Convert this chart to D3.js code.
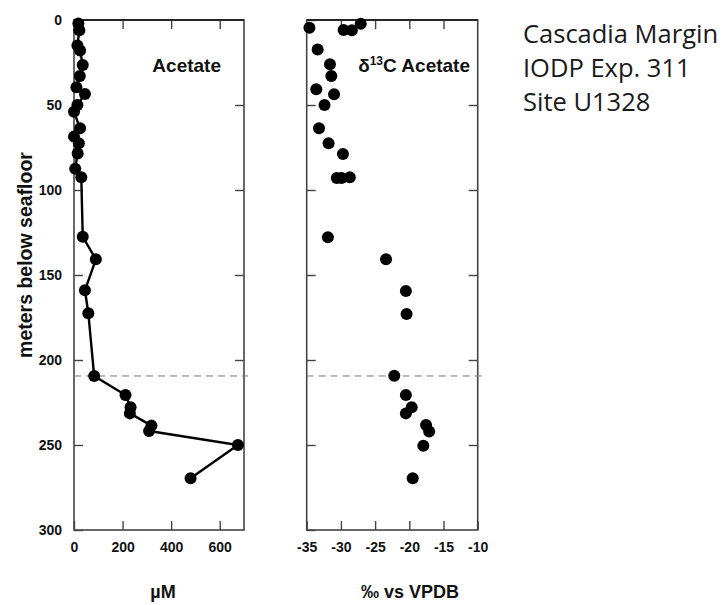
<!DOCTYPE html>
<html>
<head>
<meta charset="utf-8">
<script src="https://cdn.jsdelivr.net/npm/d3@7"></script>
<style>
  body { margin: 0; background: #fff; }
  svg { display: block; font-family: "Liberation Sans", Arial, sans-serif; }
  .tick text { font-size: 14px; font-weight: bold; fill: #111; }
  .tick line { stroke: #444; stroke-width: 1.4; }
  .domain { display: none; }
  .frame { fill: none; stroke: #444; stroke-width: 1.6; }
  .panel-title { font-size: 19px; font-weight: bold; fill: #111; }
  .axis-title { font-size: 18px; font-weight: bold; fill: #111; }
  .site { font-family: "Open Sans", "Noto Sans", sans-serif; font-size: 25.5px; fill: #1a1a1a; }
</style>
</head>
<body>
<div id="chart"></div>
<script>
  // acetate concentration (µM) vs depth (mbsf)
  var acetateDepth = [2, 6, 15, 18, 26.5, 33, 39.5, 43.5, 50, 54, 63.7, 68.6, 72.5, 78.5, 87.5, 92.5, 127.5, 140.8, 159, 172.5, 209.4, 220.6, 227.8, 231.4, 238.6, 241.8, 250, 269.6];
  var acetateConc = [18, 22, 14, 25, 36, 24, 10, 45, 14, 0, 25, 0, 20, 15, 5, 30, 36, 90, 45, 59, 83, 212, 233, 230, 319, 309, 675, 480];

  // d13C of acetate (permil vs VPDB) vs depth (mbsf)
  var d13cDepth = [2.2, 4.5, 5.9, 6.1, 17.3, 26, 33, 40.8, 43.7, 50, 63.7, 72.5, 78.8, 93, 93, 92.5, 127.8, 140.8, 159.4, 173, 209.2, 220.6, 227.8, 231.4, 238.2, 242, 250.4, 269.6];
  var d13cValue = [-27.1, -34.6, -29.6, -28.4, -33.4, -31.6, -31.4, -33.6, -31, -32.4, -33.2, -31.8, -29.7, -30.6, -29.9, -28.7, -31.9, -23.4, -20.5, -20.4, -22.2, -20.5, -19.65, -20.5, -17.55, -17.1, -17.95, -19.5];

  var concTicks = [0, 200, 400, 600];
  var d13cTicks = [-35, -30, -25, -20, -15, -10];
  var depthTicks = [0, 50, 100, 150, 200, 250, 300];
  var smtzDepth = 209.4;

  var width = 723, height = 605;
  var plotTop = 20, plotBottom = 530;

  var svg = d3.select('#chart')
    .append('svg')
    .attr('width', width)
    .attr('height', height);

  var y = d3.scaleLinear().domain([0, 300]).range([plotTop, plotBottom]);

  var xConc = d3.scaleLinear().domain([0, 700]).range([74, 244]);
  var xD13c = d3.scaleLinear().domain([-35, -10]).range([306.7, 477.7]);

  // plain hyphen minus, like the original
  function plainNum( d ) { return String( d ); }

  function drawFrame( x, showDepthLabels, xTicks ) {
    var x0 = x.range()[0], x1 = x.range()[1];
    var g = svg.append('g');

    g.append('g')
      .attr('transform', 'translate(0,' + plotBottom + ')')
      .call( d3.axisBottom( x ).tickValues( xTicks ).tickSize( -9 ).tickPadding( 12 ).tickFormat( plainNum ) );

    g.append('g')
      .attr('transform', 'translate(0,' + plotTop + ')')
      .call( d3.axisTop( x ).tickValues( xTicks.filter( function ( t ) { return t > x.domain()[0] && t < x.domain()[1]; }) ).tickSize( -9 ).tickFormat('') );

    g.append('g')
      .attr('transform', 'translate(' + x0 + ',0)')
      .call( d3.axisLeft( y ).tickValues( depthTicks ).tickSize( -9 ).tickPadding( 12 ).tickFormat( showDepthLabels ? plainNum : '' ) );

    g.append('g')
      .attr('transform', 'translate(' + x1 + ',0)')
      .call( d3.axisRight( y ).tickValues( depthTicks.slice(1, -1) ).tickSize( -9 ).tickFormat('') );

    g.append('rect')
      .classed('frame', true)
      .attr('x', x0 )
      .attr('y', plotTop )
      .attr('width', x1 - x0 )
      .attr('height', plotBottom - plotTop );

    g.append('line')
      .attr('x1', x0 ).attr('x2', x1 )
      .attr('y1', plotTop ).attr('y2', plotTop )
      .attr('stroke', '#111').attr('stroke-width', 1.4);

    g.append('line')
      .attr('x1', x0 ).attr('x2', x1 + 4 )
      .attr('y1', y( smtzDepth ) ).attr('y2', y( smtzDepth ) )
      .attr('stroke', '#777')
      .attr('stroke-width', 1)
      .attr('stroke-dasharray', '7,5');

    return g;
  }

  // left panel: acetate concentration
  var left = drawFrame( xConc, true, concTicks );

  var concPts = acetateDepth.map( function ( d, i ) { return { depth: d, val: acetateConc[i] }; });

  left.append('path')
    .datum( concPts )
    .attr('fill', 'none')
    .attr('stroke', '#000')
    .attr('stroke-width', 2.4)
    .attr('d', d3.line()
      .x( function ( d ) { return xConc( d.val ); })
      .y( function ( d ) { return y( d.depth ); }) );

  left.selectAll('.dot')
    .data( concPts )
    .enter()
    .append('circle')
    .classed('dot', true)
    .attr('cx', function ( d ) { return xConc( d.val ); })
    .attr('cy', function ( d ) { return y( d.depth ); })
    .attr('r', 6)
    .attr('fill', '#000');

  left.append('text')
    .classed('panel-title', true)
    .attr('x', 221)
    .attr('y', 72)
    .attr('text-anchor', 'end')
    .text('Acetate');

  // right panel: d13C
  var right = drawFrame( xD13c, false, d13cTicks );

  right.selectAll('.dot')
    .data( d13cDepth.map( function ( d, i ) { return { depth: d, val: d13cValue[i] }; }) )
    .enter()
    .append('circle')
    .classed('dot', true)
    .attr('cx', function ( d ) { return xD13c( d.val ); })
    .attr('cy', function ( d ) { return y( d.depth ); })
    .attr('r', 6)
    .attr('fill', '#000');

  var t13 = right.append('text')
    .classed('panel-title', true)
    .attr('x', 470)
    .attr('y', 72)
    .attr('text-anchor', 'end');
  t13.append('tspan').text('δ');
  t13.append('tspan').attr('font-size', '12px').attr('dy', -7).text('13');
  t13.append('tspan').attr('dy', 7).text('C Acetate');

  // axis titles
  svg.append('text')
    .classed('axis-title', true)
    .attr('transform', 'translate(32,255) rotate(-90)')
    .attr('text-anchor', 'middle')
    .style('font-size', '19.5px')
    .text('meters below seafloor');

  svg.append('text')
    .classed('axis-title', true)
    .attr('x', 163)
    .attr('y', 598)
    .attr('text-anchor', 'middle')
    .text('µM');

  svg.append('text')
    .classed('axis-title', true)
    .attr('x', 410)
    .attr('y', 598)
    .attr('text-anchor', 'middle')
    .text('‰ vs VPDB');

  // site label
  var siteLines = ['Cascadia Margin', 'IODP Exp. 311', 'Site U1328'];
  svg.selectAll('.site')
    .data( siteLines )
    .enter()
    .append('text')
    .classed('site', true)
    .attr('x', 523)
    .attr('y', function ( d, i ) { return 43 + i * 34; })
    .text( function ( d ) { return d; });
</script>
</body>
</html>
